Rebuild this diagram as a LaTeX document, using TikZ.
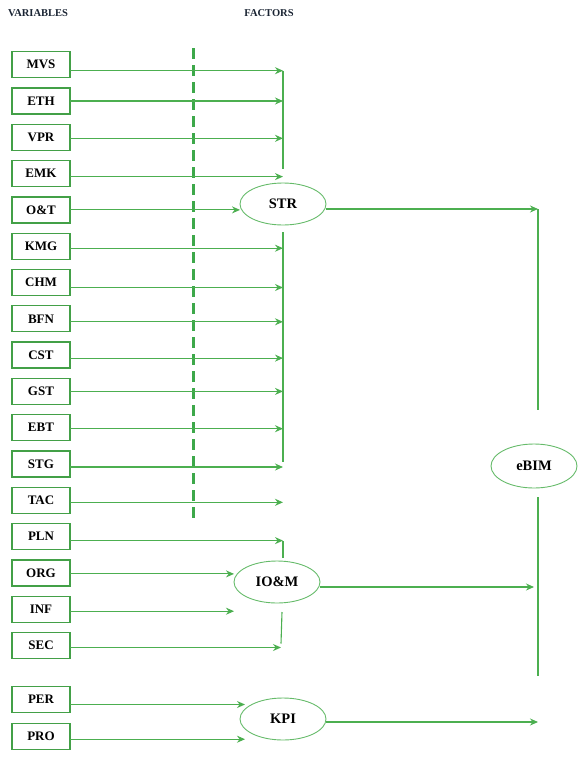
\documentclass[tikz,border=0pt]{standalone}
\usepackage{fontspec}
\setmainfont{Liberation Serif}
\usepackage{tikz}
\usetikzlibrary{positioning,arrows.meta,shapes.geometric}
\definecolor{cVarB}{HTML}{43A047}
\definecolor{cFacB}{HTML}{66BB6A}
\definecolor{cFlow}{HTML}{4CAF50}
\definecolor{cDiv}{HTML}{3DA84A}
\definecolor{cHead}{HTML}{1A2433}
\tikzset{
  >={Stealth[length=8pt,width=7pt]},
  var/.style={draw=cVarB,line width=1.3pt,minimum width=58pt,minimum height=26pt,
              inner sep=0pt,outer sep=0pt,font=\bfseries\fontsize{13}{15}\selectfont},
  fac/.style={ellipse,draw=cFacB,line width=0.9pt,minimum width=86pt,minimum height=42pt,
              inner sep=0pt,outer sep=0pt,font=\bfseries\fontsize{14.5}{16}\selectfont},
  head/.style={text=cHead,font=\bfseries\fontsize{10.5}{12}\selectfont},
  flow/.style={->,line width=1.1pt,cFlow},
  link/.style={line width=1.1pt,cFlow},
  divider/.style={cDiv,line width=3pt,dash pattern=on 11pt off 6pt},
}

\begin{document}
\begin{tikzpicture}[x=1pt,y=-1pt]
  \useasboundingbox (0,0) rectangle (588,761);
  % --- headings ---
  \node[head] (hvar) at (38,13) {VARIABLES};
  \node[head] (hfac) at (269,13) {FACTORS};
  % --- variables ---
  \node[var] (mvs) at (41,64.7) {MVS};
  \node[var,below=10.3pt of mvs] (eth) {ETH};
  \node[var,below=10.3pt of eth] (vpr) {VPR};
  \node[var,below=10.3pt of vpr] (emk) {EMK};
  \node[var,below=10.3pt of emk] (ot)  {O\&T};
  \node[var,below=10.3pt of ot]  (kmg) {KMG};
  \node[var,below=10.3pt of kmg] (chm) {CHM};
  \node[var,below=10.3pt of chm] (bfn) {BFN};
  \node[var,below=10.3pt of bfn] (cst) {CST};
  \node[var,below=10.3pt of cst] (gst) {GST};
  \node[var,below=10.3pt of gst] (ebt) {EBT};
  \node[var,below=10.3pt of ebt] (stg) {STG};
  \node[var,below=10.3pt of stg] (tac) {TAC};
  \node[var,below=10.3pt of tac] (pln) {PLN};
  \node[var,below=10.3pt of pln] (org) {ORG};
  \node[var,below=10.3pt of org] (inf) {INF};
  \node[var,below=10.3pt of inf] (sec) {SEC};
  \node[var,below=28pt of sec]   (per) {PER};
  \node[var,below=10.7pt of per] (pro) {PRO};
  % --- factors ---
  \node[fac] (str) at (283,204) {STR};
  \node[fac] (iom) at (277,582) {IO\&M};
  \node[fac] (kpi) at (283,719) {KPI};
  \node[fac,minimum height=44pt] (ebim) at (534,466) {eBIM};
  % --- divider ---
  \draw[divider] (193,48) -- (193,522);
  % --- collector x positions ---
  \coordinate (strbus) at (283,0);
  \coordinate (ebus)   at (538,0);
  \coordinate (kpiin)  at (245,0);
  \coordinate (secin)  at (281,0);
  % --- variables -> STR ---
  \draw[flow] ([yshift=-6pt]mvs.east) -- ([yshift=-6pt]mvs.east -| strbus);
  \draw[flow] (eth.east) -- (eth.east -| strbus);
  \draw[flow] ([yshift=-1pt]vpr.east) -- ([yshift=-1pt]vpr.east -| strbus);
  \draw[flow] ([yshift=-3pt]emk.east) -- ([yshift=-3pt]emk.east -| strbus);
  \draw[flow] (ot.east) -- (ot.east -| str.west);
  \draw[flow] ([yshift=-2pt]kmg.east) -- ([yshift=-2pt]kmg.east -| strbus);
  \draw[flow] ([yshift=-5pt]chm.east) -- ([yshift=-5pt]chm.east -| strbus);
  \draw[flow] ([yshift=-3pt]bfn.east) -- ([yshift=-3pt]bfn.east -| strbus);
  \draw[flow] ([yshift=-3pt]cst.east) -- ([yshift=-3pt]cst.east -| strbus);
  \draw[flow] (gst.east) -- (gst.east -| strbus);
  \draw[flow] ([yshift=-1pt]ebt.east) -- ([yshift=-1pt]ebt.east -| strbus);
  \draw[flow] ([yshift=-3pt]stg.east) -- ([yshift=-3pt]stg.east -| strbus);
  \draw[flow] ([yshift=-2pt]tac.east) -- ([yshift=-2pt]tac.east -| strbus);
  \draw[link] ([yshift=-6pt]mvs.east -| strbus) -- ([yshift=5pt]emk.east -| strbus);
  \draw[link] ([yshift=-7pt]str.south) -- ([yshift=2pt]stg.east -| strbus);
  % --- variables -> IO&M ---
  \draw[flow] ([yshift=-4pt]pln.east) -- ([yshift=-4pt]pln.east -| strbus);
  \draw[flow] ([yshift=-1pt]org.east) -- ([yshift=-1pt]org.east -| iom.west);
  \draw[flow] ([yshift=-2pt]inf.east) -- ([yshift=-2pt]inf.east -| iom.west);
  \draw[flow] ([yshift=-2pt]sec.east) -- ([yshift=-2pt]sec.east -| secin);
  \draw[link] ([xshift=6pt,yshift=3pt]iom.north) -- ([yshift=-4pt]pln.east -| strbus);
  \draw[link] ([xshift=5pt,yshift=-9pt]iom.south) -- ([yshift=2pt]sec.east -| secin);
  % --- variables -> KPI ---
  \draw[flow] ([yshift=-5pt]per.east) -- ([yshift=-5pt]per.east -| kpiin);
  \draw[flow] ([yshift=-3pt]pro.east) -- ([yshift=-3pt]pro.east -| kpiin);
  % --- factors -> eBIM ---
  \draw[flow] ([yshift=-5pt]str.east) -- ([yshift=-5pt]str.east -| ebus);
  \draw[flow] ([yshift=-5pt]iom.east) -- ([xshift=-4pt,yshift=-5pt]iom.east -| ebus);
  \draw[flow] ([yshift=-3pt]kpi.east) -- ([yshift=-3pt]kpi.east -| ebus);
  \draw[link] ([yshift=-5pt]str.east -| ebus) -- ([yshift=34pt]ebim.north -| ebus);
  \draw[link] ([yshift=-9pt]ebim.south -| ebus) -- ([yshift=-188pt]ebim.south -| ebus);
\end{tikzpicture}
\end{document}
